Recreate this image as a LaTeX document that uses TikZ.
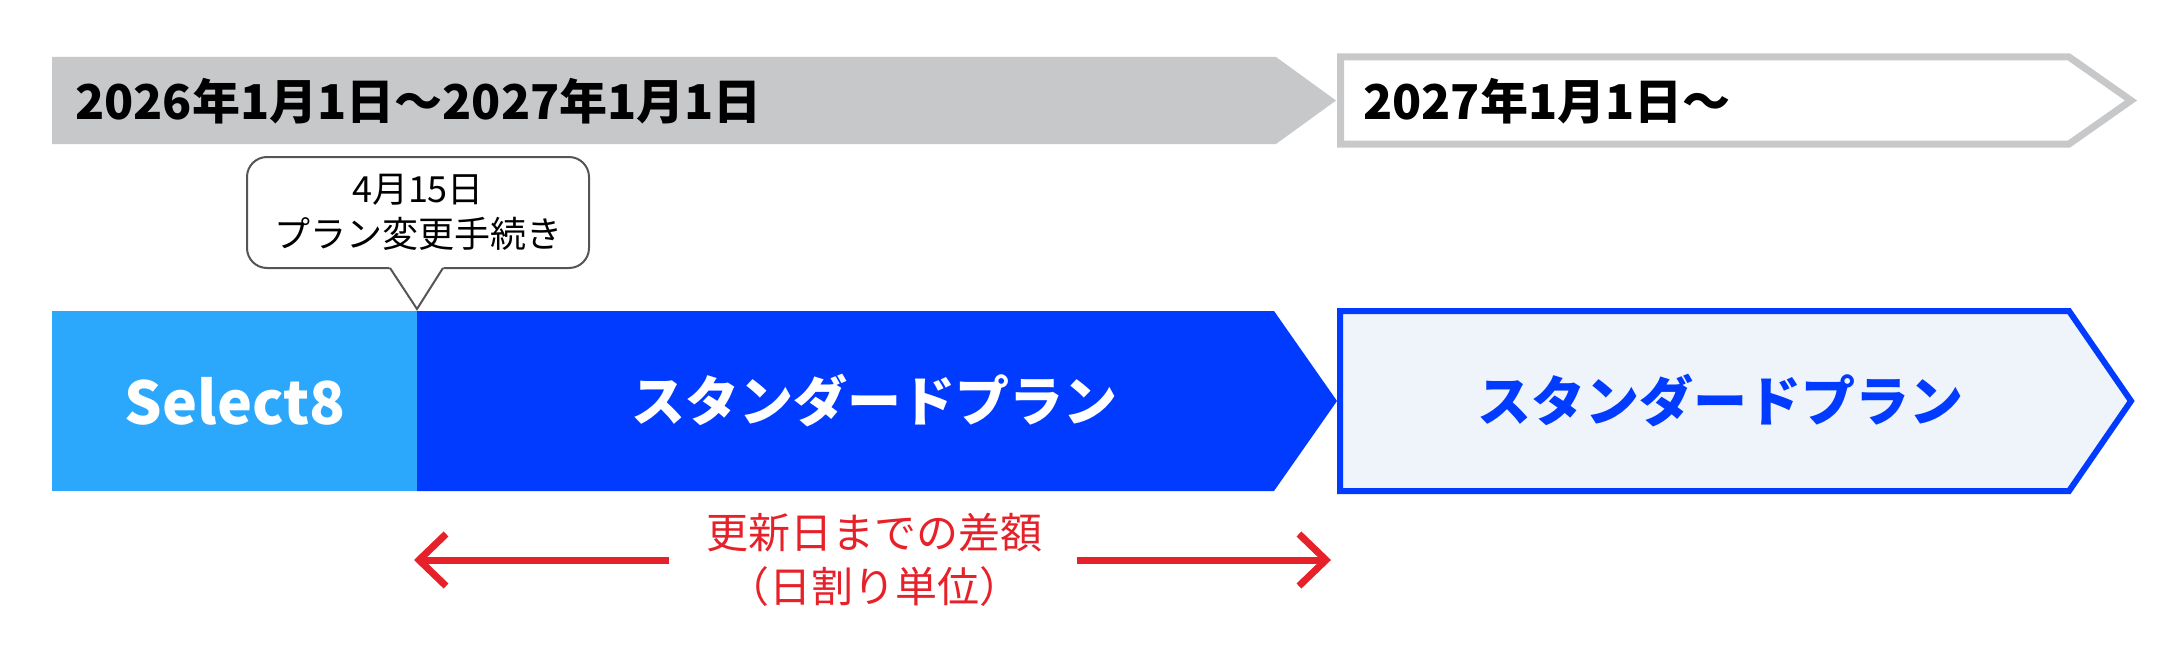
\documentclass[tikz,border=0pt]{standalone}
\usepackage{fontspec}
\setmainfont{Noto Sans CJK JP}
\usetikzlibrary{arrows.meta}
\definecolor{gbar}{HTML}{C7C8CA}
\definecolor{lblue}{HTML}{2BA8FB}
\definecolor{dblue}{HTML}{003BFF}
\definecolor{pale}{HTML}{EEF4FA}
\definecolor{rred}{HTML}{E62129}
\definecolor{bub}{HTML}{555555}
\tikzset{
  toptext/.style={anchor=west,inner sep=0pt,font=\fontsize{48}{60}\selectfont\bfseries,text=black},
  plantext/.style={inner sep=0pt,font=\fontsize{54}{60}\selectfont\bfseries},
  bubtext/.style={inner sep=0pt,align=center,font=\fontsize{36}{45}\selectfont,text=black},
  redtext/.style={inner sep=0pt,align=center,font=\fontsize{42}{54}\selectfont,text=rred},
  redarr/.style={draw=rred,line width=7pt,-{Straight Barb[length=27pt,width=52pt]}},
}
\begin{document}
\begin{tikzpicture}[x=1pt,y=-1pt]
\useasboundingbox (0,0) rectangle (2176,661);
% top timeline
\fill[gbar] (52,57) -- (1276,57) -- (1336,100.5) -- (1276,144) -- (52,144) -- cycle;
\draw[gbar,line width=7pt,fill=white,line join=miter] (1340.5,57) -- (2069,57) -- (2131,100.5) -- (2069,144) -- (1340.5,144) -- cycle;
\node[toptext] (p1) at (75,101) {2026年1月1日～2027年1月1日};
\node[toptext] (p2) at (1363,101) {2027年1月1日～};
% bubble
\draw[bub,line width=2pt,fill=white,rounded corners=20pt] (247,157) rectangle (589,268);
\fill[white] (389,266.8) -- (444,266.8) -- (443,268) -- (417,309) -- (390,268) -- cycle;
\draw[bub,line width=2pt] (390,268) -- (417,309) -- (443,268);
\node[bubtext] (bt) at (418,212) {4月15日\\プラン変更手続き};
% bottom bars
\fill[lblue] (52,311) rectangle (417,491);
\fill[dblue] (417,311) -- (1274,311) -- (1337,401) -- (1274,491) -- (417,491) -- cycle;
\draw[dblue,line width=6pt,fill=pale] (1340,311) -- (2069,311) -- (2131,401) -- (2069,491) -- (1340,491) -- cycle;
\node[inner sep=0pt,font=\fontsize{59}{70}\selectfont\bfseries,text=white] (s8) at (235,401) {Select8};
\node[plantext,text=white] (sp1) at (874,401) {スタンダードプラン};
\node[plantext,text=dblue] (sp2) at (1720,401) {スタンダードプラン};
% difference
\node[redtext] (diff) at (874,560) {更新日までの差額\\（日割り単位）};
\coordinate (la) at (669,560);
\coordinate (lt) at (414,560);
\coordinate (ra) at (1077,560);
\coordinate (rt) at (1331,560);
\draw[redarr] (la) -- (lt);
\draw[redarr] (ra) -- (rt);
\end{tikzpicture}
\end{document}
